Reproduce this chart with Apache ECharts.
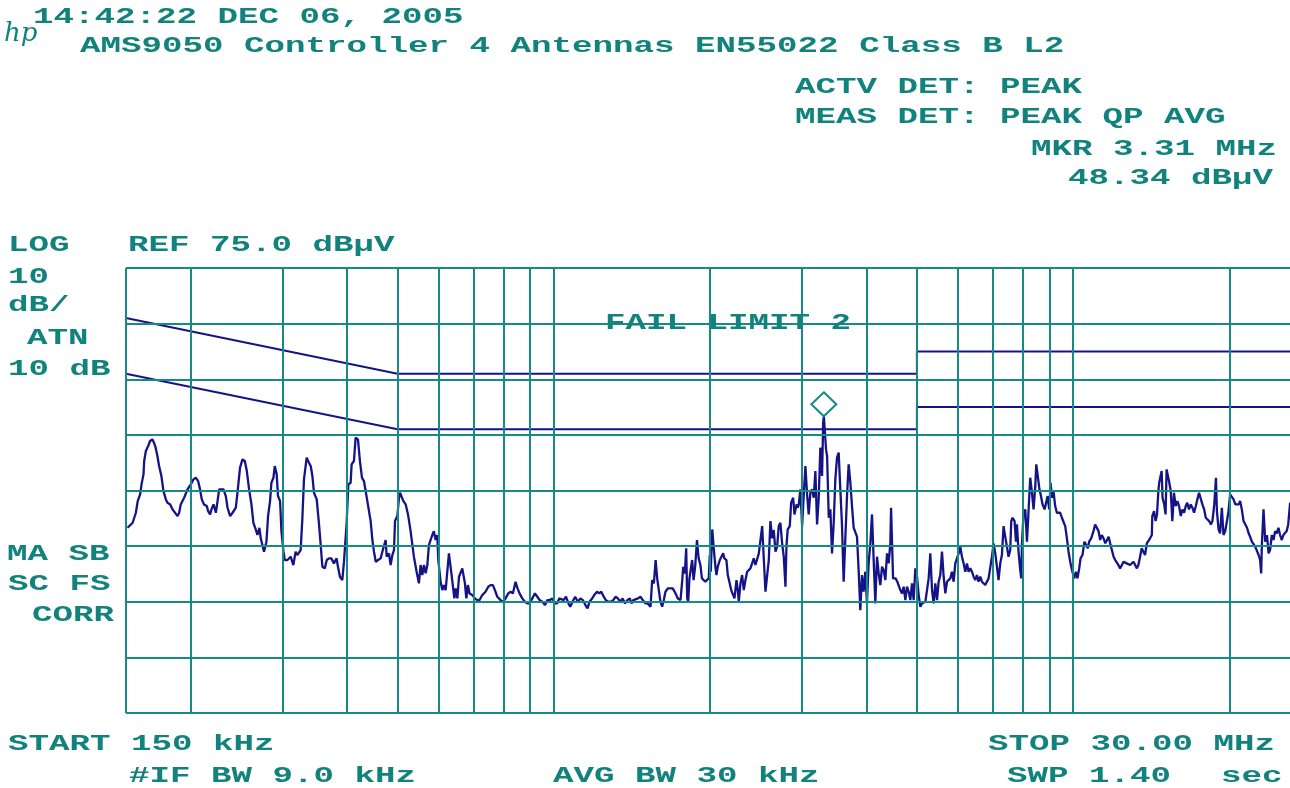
<!DOCTYPE html>
<html>
<head>
<meta charset="utf-8">
<script src="https://cdn.jsdelivr.net/npm/echarts@6/dist/echarts.min.js"></script>
<style>
html,body{margin:0;padding:0;background:#fff;overflow:hidden;width:1290px;height:788px;}
#chart{width:1322px;height:788px;}
</style>
</head>
<body>
<div id="chart"></div>
<script>
// ---------------- data ----------------
const startMHz = 0.15;
const stopMHz = 30;
const refLevel = 75;      // dBµV, top of screen
const bottomLevel = -5;   // 8 divisions of 10 dB below ref

// graticule lines
const gridFreqs = [0.15,0.2,0.3,0.4,0.5,0.6,0.7,0.8,0.9,1,2,3,4,5,6,7,8,9,10,20,30];
const gridLevels = [-5,5,15,25,35,45,55,65,75];

// EN55022 Class B limit lines
const limitFreq = [0.15, 0.5, 5, 5, 30];
const limitQP   = [66, 56, 56, 60, 60];
const limitAVG  = [56, 46, 46, 50, 50];

// marker
const markerFreq = 3.31;
const markerLevel = 48.34;

const traceFreq = [
0.151,0.1545,0.1567,0.1580,0.1597,0.1607,0.1621,0.1626,0.1638,0.1655,0.1669,0.1686,0.1698,0.1711,0.1724,0.1737,0.1755,0.1771,0.1790,0.1803,
0.1825,0.1844,0.1858,0.1885,0.1899,0.1912,0.1941,0.1970,0.1999,0.2023,0.2044,0.2065,0.2083,0.2099,0.2120,0.2146,0.2159,0.2178,0.2191,0.2211,
0.2234,0.2251,0.2267,0.2283,0.2311,0.2335,0.2353,0.2380,0.2406,0.2441,0.2459,0.2487,0.2514,0.2540,0.2563,0.2589,0.2616,0.2639,0.2666,0.2686,
0.2710,0.2726,0.2746,0.2766,0.2796,0.2816,0.2841,0.2858,0.2884,0.2901,0.2926,0.2943,0.2970,0.2988,0.3015,0.3033,0.3069,0.3113,0.3150,0.3182,
0.3206,0.3254,0.3278,0.3302,0.3342,0.3376,0.3402,0.3428,0.3452,0.3494,0.3530,0.3556,0.3583,0.3621,0.3653,0.3689,0.3728,0.3771,0.3816,0.3839,
0.3873,0.3914,0.3943,0.3990,0.4020,0.4061,0.4079,0.4121,0.4152,0.4195,0.4232,0.4270,0.4308,0.4341,0.4373,0.4405,0.4438,0.4472,0.4504,0.4539,
0.4586,0.4639,0.4674,0.4707,0.4743,0.4765,0.4813,0.4849,0.4886,0.4922,0.4944,0.4996,0.5032,0.5055,0.5093,0.5131,0.5184,0.5237,0.5298,0.5376,
0.5441,0.5497,0.5538,0.5580,0.5621,0.5663,0.5706,0.5746,0.5789,0.5833,0.5874,0.5919,0.5963,0.5990,0.6025,0.6052,0.6098,0.6142,0.6188,0.6234,
0.6279,0.6326,0.6354,0.6391,0.6432,0.6470,0.6519,0.6566,0.6612,0.6662,0.6711,0.6741,0.6783,0.6831,0.6881,0.6964,0.7044,0.7119,0.7193,0.7279,
0.7386,0.7475,0.7552,0.7630,0.7699,0.7782,0.7895,0.7976,0.8072,0.8170,0.8252,0.8337,0.8437,0.8512,0.8588,0.8692,0.8793,0.8887,0.8978,0.9087,
0.9193,0.9291,0.9387,0.9502,0.9614,0.9719,0.9821,0.9937,1.003,1.014,1.024,1.033,1.044,1.055,1.067,1.075,1.086,1.099,1.112,1.125,
1.137,1.150,1.161,1.171,1.185,1.196,1.211,1.223,1.234,1.247,1.259,1.273,1.288,1.301,1.315,1.328,1.342,1.356,1.371,1.385,
1.400,1.411,1.422,1.453,1.468,1.483,1.501,1.516,1.535,1.546,1.558,1.570,1.581,1.593,1.604,1.616,1.628,1.640,1.657,1.677,
1.694,1.715,1.732,1.753,1.766,1.774,1.787,1.798,1.806,1.814,1.824,1.834,1.846,1.858,1.872,1.886,1.900,1.915,1.928,1.942,
1.957,1.972,1.987,1.996,2.005,2.018,2.033,2.048,2.056,2.068,2.087,2.102,2.118,2.130,2.149,2.162,2.181,2.195,2.214,2.227,
2.247,2.260,2.270,2.287,2.304,2.321,2.338,2.356,2.373,2.390,2.408,2.426,2.444,2.463,2.481,2.499,2.518,2.537,2.555,2.574,
2.593,2.612,2.632,2.651,2.671,2.691,2.710,2.730,2.751,2.771,2.792,2.804,2.820,2.846,2.863,2.889,2.906,2.932,2.949,2.962,
2.983,3.006,3.027,3.050,3.073,3.095,3.118,3.142,3.165,3.188,3.212,3.236,3.259,3.284,3.300,3.310,3.343,3.358,3.383,3.407,
3.432,3.457,3.483,3.509,3.535,3.561,3.587,3.614,3.641,3.668,3.695,3.723,3.750,3.778,3.806,3.834,3.862,3.891,3.920,3.948,
3.978,4.007,4.037,4.068,4.098,4.128,4.159,4.190,4.221,4.252,4.284,4.315,4.348,4.380,4.412,4.445,4.459,4.499,4.550,4.584,
4.618,4.646,4.681,4.715,4.751,4.786,4.821,4.857,4.893,4.929,4.966,5.003,5.040,5.077,5.115,5.153,5.191,5.230,5.268,5.307,
5.347,5.386,5.426,5.467,5.507,5.547,5.589,5.630,5.672,5.714,5.756,5.798,5.842,5.885,5.929,5.973,6.017,6.061,6.106,6.151,
6.197,6.243,6.289,6.336,6.383,6.430,6.478,6.526,6.574,6.623,6.672,6.721,6.771,6.821,6.872,6.923,6.974,7.025,7.078,7.130,
7.182,7.236,7.290,7.343,7.398,7.453,7.507,7.564,7.598,7.642,7.710,7.758,7.792,7.847,7.907,7.942,7.966,8.024,8.085,8.146,
8.206,8.265,8.328,8.388,8.452,8.489,8.538,8.601,8.667,8.730,8.808,8.863,8.926,8.992,9.043,9.098,9.163,9.232,9.301,9.369,
9.440,9.511,9.579,9.651,9.725,9.795,9.868,9.912,9.969,10.04,10.12,10.19,10.27,10.33,10.42,10.51,10.58,10.67,10.73,10.83,
10.94,11.02,11.10,11.19,11.27,11.35,11.44,11.53,11.61,11.70,11.78,11.87,11.96,12.05,12.14,12.22,12.31,12.41,12.50,12.59,
12.68,12.78,12.87,12.97,13.06,13.16,13.26,13.35,13.45,13.55,13.65,13.75,13.86,13.96,14.06,14.17,14.20,14.31,14.41,14.50,
14.58,14.64,14.73,14.80,14.86,14.97,15.06,15.13,15.20,15.29,15.41,15.52,15.63,15.75,15.87,15.99,16.11,16.23,16.35,16.47,
16.58,16.71,16.84,16.96,17.09,17.22,17.34,17.47,17.60,17.73,17.87,18.00,18.14,18.27,18.41,18.54,18.69,18.83,18.91,19.05,
19.18,19.33,19.47,19.62,19.77,19.91,20.05,20.21,20.36,20.52,20.67,20.83,20.96,21.12,21.28,21.45,21.61,21.77,21.91,22.08,
22.24,22.41,22.58,22.75,22.90,23.01,23.08,23.25,23.43,23.61,23.78,23.94,24.12,24.30,24.48,24.66,24.84,25.02,25.21,25.39,
25.58,25.77,25.94,26.16,27.0,28.0,29.0,30.0
];
const traceLevel = [
28.3,29.2,31.0,33.1,34.3,36.1,37.9,40.3,42.1,43.0,43.9,44.2,43.6,42.7,41.2,39.4,37.6,34.9,33.4,32.8,
32.5,31.6,31.3,30.4,31.0,32.5,33.7,35.2,36.1,37.0,37.3,36.7,35.2,33.4,32.5,32.2,31.3,30.7,31.6,32.5,
31.0,33.1,35.2,35.5,35.2,34.0,31.9,30.4,31.0,31.9,34.6,39.1,40.6,40.3,38.5,35.2,32.5,29.2,28.0,27.0,
28.3,26.4,25.2,24.0,25.8,30.4,33.1,36.4,37.3,39.4,37.9,34.0,33.1,27.7,24.0,22.5,22.5,23.1,21.6,24.0,
23.4,24.3,29.8,37.0,40.9,40.0,39.4,37.6,34.6,33.4,28.9,25.2,21.3,21.0,22.5,22.8,22.8,21.9,22.8,21.3,
19.5,18.9,22.2,29.2,36.1,36.4,39.7,40.3,44.5,44.2,40.3,37.3,36.7,34.9,33.1,32.8,29.5,26.1,24.0,22.2,
22.5,22.8,24.0,24.3,26.1,23.1,23.7,21.6,23.4,24.3,29.5,30.4,33.7,34.6,34.3,33.1,32.5,30.7,27.7,23.1,
20.4,18.3,21.6,19.8,21.6,20.1,21.6,25.2,26.1,27.0,27.7,26.1,27.0,22.5,22.5,18.6,17.1,18.0,17.1,20.4,
23.7,23.7,19.8,19.5,15.6,17.4,15.6,19.5,19.5,21.0,21.3,18.3,15.6,18.0,16.5,16.2,15.6,15.3,15.3,16.2,
16.8,17.7,18.0,18.0,17.1,15.9,15.3,15.0,15.6,16.5,16.8,16.5,18.6,17.4,16.5,15.6,15.0,14.7,14.7,15.6,
16.5,15.9,15.3,15.0,14.4,15.3,15.3,15.6,14.7,14.7,15.6,15.9,15.3,15.9,14.7,14.1,15.0,15.9,15.0,15.6,
15.3,14.4,13.8,15.0,15.6,16.2,16.8,16.5,16.8,15.9,15.3,15.0,15.0,15.3,15.9,15.6,15.0,15.6,14.7,15.3,
15.6,14.7,15.3,15.6,15.9,15.3,14.7,14.7,14.1,18.9,18.3,22.5,19.2,18.9,15.0,14.1,15.3,16.8,17.4,17.4,
17.4,16.5,15.6,15.3,18.6,21.3,20.1,24.6,15.6,15.0,19.2,19.5,22.5,18.9,21.6,26.1,22.8,21.6,19.2,18.9,
18.6,18.9,19.2,23.4,20.4,28.0,24.3,21.0,19.8,21.3,22.5,22.2,23.7,22.8,22.5,19.8,18.3,17.1,16.8,15.6,
18.9,17.1,15.0,18.3,19.8,17.1,18.9,20.4,20.7,21.0,21.3,22.8,21.6,21.9,23.7,23.4,28.6,22.5,16.8,16.5,
22.5,29.5,26.4,27.9,24.0,24.9,28.6,29.2,25.5,23.1,17.7,24.9,28.0,28.6,32.8,33.7,30.7,32.5,31.9,32.5,
35.2,28.6,34.0,39.4,34.3,30.7,34.6,35.2,33.7,38.5,28.9,33.7,42.7,37.6,47.2,48.34,42.3,41.2,30.1,31.6,
23.7,28.9,37.0,40.9,41.8,35.2,28.9,18.6,26.4,34.0,39.7,36.4,32.2,28.3,28.3,26.7,20.7,13.5,19.8,16.8,
20.4,14.7,21.9,25.5,30.7,22.5,14.7,23.1,20.1,18.0,21.3,20.7,18.9,23.7,21.9,25.5,31.9,19.2,19.2,18.6,
18.3,17.1,16.5,17.7,15.3,17.7,16.8,15.3,18.3,15.3,21.0,19.5,16.2,14.1,14.7,14.7,15.0,17.1,19.2,23.7,
17.1,14.7,18.3,15.3,18.6,19.8,24.0,19.5,16.5,18.6,18.3,19.2,20.4,18.6,21.9,22.2,23.7,24.9,23.1,21.9,
20.4,21.9,20.4,21.0,20.4,19.5,18.9,19.8,18.6,19.5,18.6,18.9,18.0,18.3,19.2,19.5,23.1,25.5,23.7,21.3,
18.9,21.9,23.4,28.6,26.7,24.9,23.1,24.3,29.5,30.1,29.5,25.8,28.9,24.0,20.7,19.2,25.2,31.0,31.6,25.8,
31.6,37.3,34.6,31.6,35.8,39.7,37.9,35.5,34.0,32.5,31.6,31.6,34.0,31.6,36.4,33.7,34.9,32.2,31.0,30.7,
31.0,30.1,29.8,28.6,26.4,24.0,22.2,21.3,21.6,19.2,20.4,19.2,21.0,22.8,23.4,25.8,25.5,24.6,25.8,26.4,
27.7,28.9,28.6,27.7,26.1,27.0,26.4,25.5,25.8,26.7,25.5,24.3,23.1,22.5,22.2,21.6,21.0,21.6,22.2,22.2,
21.9,21.6,21.6,21.9,22.2,21.6,21.0,21.6,23.1,24.6,24.0,23.4,25.5,25.2,26.4,27.0,30.4,31.3,29.5,30.7,
34.6,36.4,36.7,38.5,33.7,32.5,30.7,38.8,39.1,36.7,34.9,29.5,34.6,32.2,33.1,32.2,30.4,31.6,31.0,32.2,
32.8,31.6,32.5,31.9,31.0,32.2,33.4,34.6,34.6,32.5,31.6,30.1,29.8,29.5,28.9,29.5,32.5,37.3,31.3,28.0,
27.3,31.9,27.0,27.7,29.5,31.3,34.3,34.0,33.4,32.5,32.5,32.5,33.1,31.6,29.5,29.2,28.3,27.3,26.7,25.8,
25.5,24.9,25.2,23.4,22.5,20.1,25.2,31.6,25.8,27.0,23.7,24.3,27.0,26.1,27.7,27.3,28.3,27.0,26.1,27.0,
27.3,27.7,28.9,32.8,30.5,29.0,30.0,31.0
];

// ---------------- style ----------------
const TEAL = '#178a86';
const TEXT = '#12827d';
const NAVY = '#141488';
const FONT_PX = 22;
const PITCH = 20.5;                        // character pitch of the screen font
const SX = PITCH / (0.6 * FONT_PX);
const FONT = 'bold ' + FONT_PX + 'px "Liberation Mono", monospace';

function label(str, x, cy) {
  return {
    type: 'text', x: x, y: cy, scaleX: SX, scaleY: 1, z: 100, silent: true,
    style: { text: str, fill: TEXT, font: FONT, align: 'left', verticalAlign: 'middle' }
  };
}

const texts = [
  label('14:42:22 DEC 06, 2005', 33, 17),
  label('AMS9050 Controller 4 Antennas EN55022 Class B L2', 80, 46),
  label('ACTV DET: PEAK', 795, 87),
  label('MEAS DET: PEAK QP AVG', 795, 117),
  label('MKR 3.31 MHz', 1031, 149),
  label('48.34 dBµV', 1068, 178),
  label('LOG', 8, 245),
  label('REF 75.0 dBµV', 128, 245),
  label('10', 8, 277),
  label('dB/', 8, 305),
  label('ATN', 27, 338),
  label('10 dB', 8, 369),
  label('MA SB', 7, 554),
  label('SC FS', 8, 584),
  label('CORR', 32, 615),
  label('FAIL LIMIT 2', 605, 323),
  label('START 150 kHz', 8, 744),
  label('STOP 30.00 MHz', 988, 744),
  label('#IF BW 9.0 kHz', 129, 776),
  label('AVG BW 30 kHz', 553, 776),
  label('SWP 1.40', 1007, 776),
  label('sec', 1221, 776),
  {
    type: 'text', x: 4, y: 34, z: 100, silent: true,
    style: { text: 'hp', fill: TEXT, font: 'italic 26px "DejaVu Serif"', align: 'left', verticalAlign: 'middle' }
  }
];

const chart = echarts.init(document.getElementById('chart'), null, { renderer: 'canvas' });

const option = {
  animation: false,
  backgroundColor: '#ffffff',
  grid: { left: 126, top: 268, right: 1, bottom: 75, containLabel: false },
  xAxis: {
    type: 'log', logBase: 10, min: startMHz, max: stopMHz,
    axisLine: { show: false }, axisTick: { show: false }, axisLabel: { show: false }, splitLine: { show: false }
  },
  yAxis: {
    type: 'value', min: bottomLevel, max: refLevel,
    axisLine: { show: false }, axisTick: { show: false }, axisLabel: { show: false }, splitLine: { show: false }
  },
  graphic: texts,
  series: [
    {
      name: 'graticule', type: 'line', data: [], z: 1, silent: true,
      markLine: {
        silent: true, symbol: ['none', 'none'], animation: false,
        label: { show: false },
        lineStyle: { color: TEAL, width: 2, type: 'solid' },
        emphasis: { disabled: true },
        data: gridFreqs.map(f => ({ xAxis: f })).concat(gridLevels.map(v => ({ yAxis: v })))
      }
    },
    {
      name: 'QP limit', type: 'line', z: 3, silent: true, showSymbol: false,
      data: limitFreq.map((f, i) => [f, limitQP[i]]),
      lineStyle: { color: NAVY, width: 2 }
    },
    {
      name: 'AVG limit', type: 'line', z: 3, silent: true, showSymbol: false,
      data: limitFreq.map((f, i) => [f, limitAVG[i]]),
      lineStyle: { color: NAVY, width: 2 }
    },
    {
      name: 'trace', type: 'line', z: 4, silent: true, showSymbol: false,
      data: traceFreq.map((f, i) => [f, traceLevel[i]]),
      lineStyle: { color: NAVY, width: 2.3 },
      markPoint: {
        silent: true, animation: false,
        symbol: 'diamond', symbolSize: [25, 24], symbolOffset: [0, -12],
        itemStyle: { color: 'rgba(255,255,255,0)', borderColor: TEAL, borderWidth: 2 },
        label: { show: false },
        data: [{ coord: [markerFreq, markerLevel] }]
      }
    }
  ]
};
chart.setOption(option);
</script>
</body>
</html>
